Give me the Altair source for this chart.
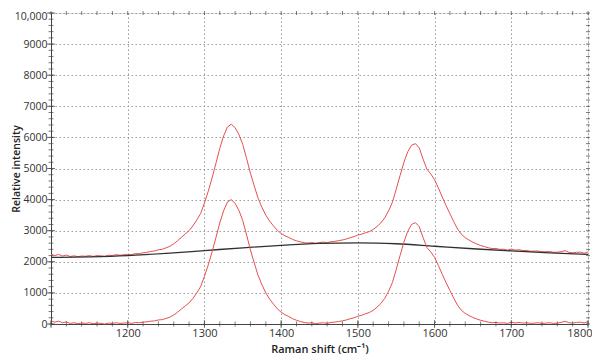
import altair as alt
import pandas as pd

# Raman shift sampling grid (cm^-1)
shift = list(range(1100, 1805, 5))

# Raw spectrum (upper red curve)
raw = [2240, 2202, 2234, 2186, 2218, 2170, 2192, 2164, 2186, 2178,
       2200, 2174, 2198, 2192, 2176, 2210, 2204, 2228, 2212, 2226,
       2240, 2227, 2264, 2261, 2288, 2305, 2332, 2349, 2386, 2403,
       2450, 2499, 2578, 2677, 2786, 2895, 3004, 3153, 3342, 3551,
       3890, 4269, 4698, 5167, 5646, 6045, 6334, 6423, 6312, 6091,
       5770, 5318, 4846, 4434, 4042, 3750, 3498, 3306, 3154, 3012,
       2910, 2836, 2782, 2718, 2674, 2640, 2616, 2602, 2618, 2594,
       2620, 2632, 2614, 2646, 2658, 2680, 2702, 2734, 2776, 2808,
       2860, 2887, 2934, 2971, 3038, 3135, 3252, 3409, 3636, 3913,
       4330, 4772, 5194, 5536, 5748, 5800, 5662, 5304, 4976, 4828,
       4640, 4372, 4084, 3806, 3548, 3290, 3052, 2884, 2776, 2698,
       2630, 2573, 2526, 2489, 2452, 2425, 2428, 2401, 2404, 2377,
       2410, 2374, 2388, 2362, 2366, 2340, 2344, 2348, 2322, 2326,
       2330, 2305, 2310, 2325, 2360, 2305, 2290, 2305, 2310, 2275,
       2320]

# Baseline-corrected spectrum (lower red curve)
corrected = [100, 60, 90, 40, 70, 20, 40, 10, 30, 20,
             40, 10, 30, 20, 0, 30, 20, 40, 20, 30,
             40, 20, 50, 40, 60, 70, 90, 100, 130, 140,
             180, 220, 290, 380, 480, 580, 680, 820, 1000, 1200,
             1530, 1900, 2320, 2780, 3250, 3640, 3920, 4000, 3880, 3650,
             3320, 2860, 2380, 1960, 1560, 1260, 1000, 800, 640, 490,
             380, 300, 240, 170, 120, 80, 50, 30, 40, 10,
             30, 40, 20, 50, 60, 80, 100, 130, 170, 200,
             250, 280, 330, 370, 440, 540, 660, 820, 1050, 1330,
             1750, 2200, 2630, 2980, 3200, 3260, 3130, 2780, 2460, 2320,
             2140, 1880, 1600, 1330, 1080, 830, 600, 440, 340, 270,
             210, 160, 120, 90, 60, 40, 50, 30, 40, 20,
             60, 30, 50, 30, 40, 20, 30, 40, 20, 30,
             40, 20, 30, 50, 90, 40, 30, 50, 60, 30,
             80]

# Fitted baseline (black curve)
base_shift = [1100, 1150, 1200, 1250, 1300, 1350, 1400, 1450,
              1500, 1550, 1600, 1650, 1700, 1750, 1800]
baseline = [2140, 2160, 2200, 2270, 2360, 2450, 2530, 2590,
            2610, 2580, 2500, 2420, 2350, 2290, 2240]

# Tick positions
x_major = [1100, 1200, 1300, 1400, 1500, 1600, 1700, 1800]
x_labels = [1200, 1300, 1400, 1500, 1600, 1700, 1800]
x_minor = list(range(1100, 1801, 20))
y_major = [0, 1000, 2000, 3000, 4000, 5000, 6000, 7000, 8000, 9000, 10000]
y_minor = list(range(0, 10001, 200))

W, H = 537, 311
RED = "#e5504e"
AXC = "#444444"
FONT = "Open Sans"

df = pd.DataFrame({"shift": shift, "raw": raw, "corr": corrected})
dfb = pd.DataFrame({"shift": base_shift, "base": baseline})

xs = alt.Scale(domain=[1100, 1800], nice=False, zero=False)
ys = alt.Scale(domain=[0, 10000], nice=False)

xaxis = alt.Axis(values=x_labels, format="d", title="Raman shift (cm⁻¹)",
                 grid=True, gridDash=[1.5, 2.5], gridColor="#9a9a9a",
                 gridWidth=1, ticks=False, tickSize=0, labelPadding=3,
                 domainColor=AXC, domainWidth=1,
                 labelFont=FONT, labelFontSize=11, labelColor="#333333",
                 titleFont=FONT, titleFontSize=11, titleFontWeight=600,
                 titleColor="#222222", titleBaseline="middle",
                 titleY=25, titleX=W / 2, labelFlush=True,
                 labelFlushOffset=4)
yaxis = alt.Axis(values=y_major, title="Relative intensity", grid=True,
                 gridDash=[1.5, 2.5], gridColor="#9a9a9a", gridWidth=1,
                 ticks=False, tickSize=0, labelPadding=4,
                 domainColor=AXC, domainWidth=1,
                 labelExpr="datum.value == 10000 ? '10,000' : datum.value",
                 labelOffset=alt.condition("datum.value == 10000",
                                           alt.value(3), alt.value(0)),
                 labelFont=FONT, labelFontSize=10.5, labelColor="#333333",
                 titleFont=FONT, titleFontSize=10.5, titleFontWeight=600,
                 titleColor="#222222", titleAngle=-90, titleAlign="center",
                 titleBaseline="middle", titleX=-35, titleY=H / 2,
                 labelFlush=False)

X = lambda f: alt.X(f, type="quantitative", scale=xs, axis=xaxis)
Y = lambda f: alt.Y(f, type="quantitative", scale=ys, axis=yaxis)

raw_line = alt.Chart(df).mark_line(color=RED, strokeWidth=1).encode(
    x=X("shift"), y=Y("raw"))
corr_line = alt.Chart(df).mark_line(color=RED, strokeWidth=1).encode(
    x=X("shift"), y=Y("corr"))
base_line = alt.Chart(dfb).mark_line(color="#303030", strokeWidth=1.3,
                                     interpolate="monotone").encode(
    x=X("shift"), y=Y("base"))

dxm = pd.DataFrame({"v": x_major})
dxn = pd.DataFrame({"v": x_minor})
dym = pd.DataFrame({"v": y_major})
dyn = pd.DataFrame({"v": y_minor})

def xticks(d, size, ypos):
    return alt.Chart(d).mark_tick(color=AXC, thickness=1, size=size).encode(
        x=X("v"), y=alt.value(ypos))

def yticks(d, size, xpos):
    return alt.Chart(d).mark_tick(color=AXC, thickness=1, size=size).encode(
        y=Y("v"), x=alt.value(xpos))

ticks = [
    xticks(dxm, 8, H), xticks(dxn, 5, H), xticks(dxn, 4, 0),
    yticks(dym, 8, 0), yticks(dyn, 5, 0), yticks(dyn, 4, W),
]

chart = alt.layer(raw_line, base_line, corr_line, *ticks).properties(
    width=W, height=H,
    autosize=alt.AutoSizeParams(type="none"),
    padding={"left": 43, "top": 5, "right": 4, "bottom": 30},
).configure_view(stroke=AXC, strokeWidth=1).configure(background="white")

chart.save("out.html", embed_options={"renderer": "svg", "actions": False})
